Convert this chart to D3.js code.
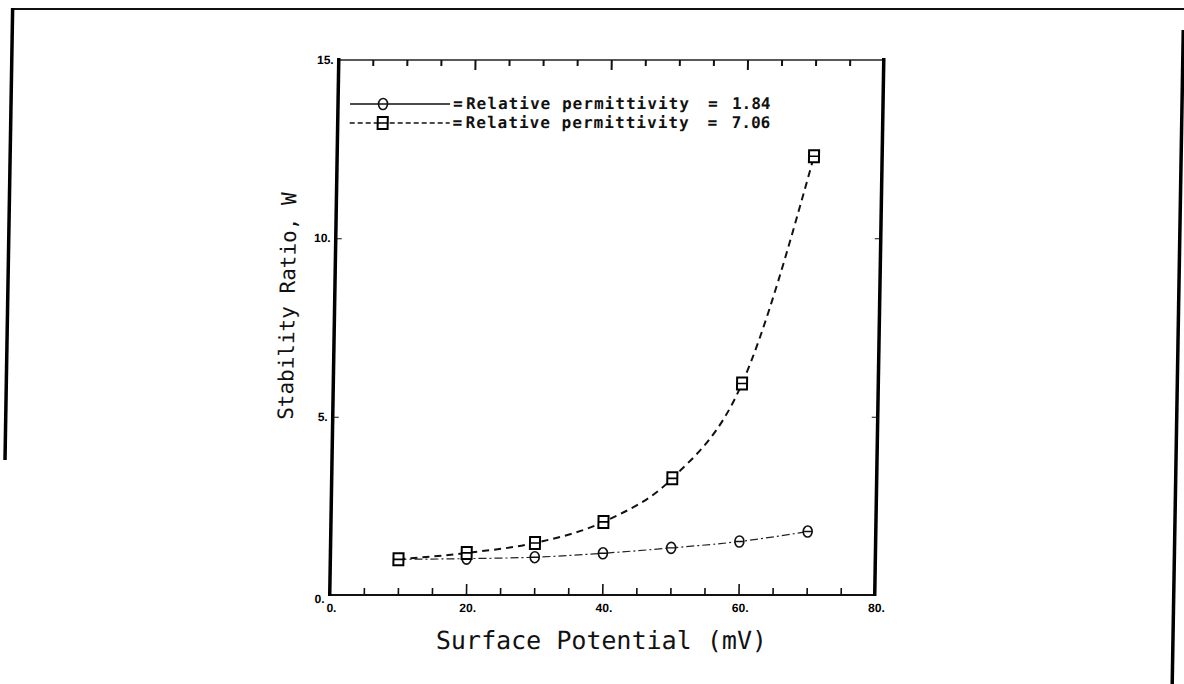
<!DOCTYPE html>
<html>
<head>
<meta charset="utf-8">
<script src="https://cdn.jsdelivr.net/npm/d3@7"></script>
<style>
  body { margin: 0; background: #fff; }
  svg { display: block; }
  .tick-lbl { font-family: "Liberation Sans", sans-serif; font-weight: bold; font-size: 12px; fill: #000; }
  .title { font-family: "DejaVu Sans Mono", monospace; fill: #111; }
  .leg { font-family: "DejaVu Sans Mono", monospace; font-size: 16px; font-weight: bold; fill: #111; }
</style>
</head>
<body>
<div id="chart"></div>
<script>
// values
const potentials = [10, 20, 30, 40, 50, 60, 70];
const ratioLow = [1.0, 1.02, 1.06, 1.17, 1.32, 1.5, 1.78];    // relative permittivity 1.84
const ratioHigh = [1.0, 1.18, 1.46, 2.05, 3.27, 5.93, 12.3];  // relative permittivity 7.06
const xTickLabels = [0, 20, 40, 60, 80];
const yTickLabels = [0, 5, 10, 15];
const legendLabels = ["1.84", "7.06"];

const WIDTH = 1184;
const HEIGHT = 684;
const plot = { left: 334, right: 879, top: 60, bottom: 595 };
// the scan is slightly sheared: top of the page sits right of the bottom
const shear = 0.0169;
const shearY = 342;

const svg = d3
  .select("#chart")
  .append("svg")
  .attr("width", WIDTH)
  .attr("height", HEIGHT);

svg.append("rect").attr("width", WIDTH).attr("height", HEIGHT).attr("fill", "#fff");

const page = svg
  .append("g")
  .attr("transform", `matrix(1,0,${-shear},1,${shear * shearY},0)`);

// page frame
page.append("line").attr("x1", 8).attr("x2", 1182).attr("y1", 9).attr("y2", 9)
  .attr("stroke", "#111").attr("stroke-width", 2);
page.append("line").attr("x1", 7).attr("x2", 7).attr("y1", 8).attr("y2", 460)
  .attr("stroke", "#000").attr("stroke-width", 3.5);
page.append("line").attr("x1", 1178).attr("x2", 1178).attr("y1", 30).attr("y2", 684)
  .attr("stroke", "#000").attr("stroke-width", 3.5);

const x = d3.scaleLinear().domain([0, 80]).range([plot.left, plot.right]);
const y = d3.scaleLinear().domain([0, 15]).range([plot.bottom, plot.top]);

// axes box: thick sides, thinner top and bottom
page.append("line").attr("x1", plot.left).attr("x2", plot.right)
  .attr("y1", plot.bottom).attr("y2", plot.bottom)
  .attr("stroke", "#111").attr("stroke-width", 2);
page.append("line").attr("x1", plot.left).attr("x2", plot.right)
  .attr("y1", plot.top).attr("y2", plot.top)
  .attr("stroke", "#222").attr("stroke-width", 1.6);
page.append("line").attr("x1", plot.left).attr("x2", plot.left)
  .attr("y1", plot.top - 2).attr("y2", plot.bottom + 1)
  .attr("stroke", "#000").attr("stroke-width", 3.5);
page.append("line").attr("x1", plot.right).attr("x2", plot.right)
  .attr("y1", plot.top - 2).attr("y2", plot.bottom + 1)
  .attr("stroke", "#000").attr("stroke-width", 3.5);

// tick marks
const minor = d3.range(5, 80, 5);
function styleTicks(g, w) {
  g.select(".domain").remove();
  g.selectAll(".tick line").attr("stroke", "#111").attr("stroke-width", w);
}
page.append("g")
  .attr("transform", `translate(0,${plot.bottom})`)
  .call(d3.axisBottom(x).tickValues(minor).tickSize(-7).tickFormat(""))
  .call((g) => styleTicks(g, 1.6))
  .selectAll(".tick line")
  .attr("y2", (d) => (d % 20 === 0 ? -11 : -7));
page.append("g")
  .attr("transform", `translate(0,${plot.top})`)
  .call(d3.axisTop(x).tickValues(minor).tickSize(-6).tickFormat(""))
  .call((g) => styleTicks(g, 2))
  .selectAll(".tick line")
  .attr("y2", (d) => (d % 20 === 0 ? 10 : 6));
page.append("g")
  .attr("transform", `translate(${plot.left},0)`)
  .call(d3.axisLeft(y).tickValues([5, 10]).tickSize(-6).tickFormat(""))
  .call((g) => styleTicks(g, 1));
page.append("g")
  .attr("transform", `translate(${plot.right},0)`)
  .call(d3.axisRight(y).tickValues([5, 10]).tickSize(-6).tickFormat(""))
  .call((g) => styleTicks(g, 1));

// tick labels
page.selectAll("text.xl")
  .data(xTickLabels)
  .enter()
  .append("text")
  .attr("class", "tick-lbl")
  .attr("x", (d) => x(d) + 2)
  .attr("y", plot.bottom + 17)
  .attr("text-anchor", "middle")
  .text((d) => d + ".");
page.selectAll("text.yl")
  .data(yTickLabels)
  .enter()
  .append("text")
  .attr("class", "tick-lbl")
  .attr("x", plot.left - 5)
  .attr("y", (d) => y(d) + (d === 0 ? 8 : 4))
  .attr("text-anchor", "end")
  .text((d) => d + ".");

// axis titles
page.append("text")
  .attr("class", "title")
  .attr("x", (plot.left + plot.right) / 2)
  .attr("y", 649)
  .attr("text-anchor", "middle")
  .attr("font-size", 25)
  .text("Surface Potential (mV)");
page.append("text")
  .attr("class", "title")
  .attr("transform", `translate(294,${y(8.1)}) rotate(-90)`)
  .attr("text-anchor", "middle")
  .attr("font-size", 21)
  .text("Stability Ratio, W");

// series
const lowPts = potentials.map((p, i) => [p, ratioLow[i]]);
const highPts = potentials.map((p, i) => [p, ratioHigh[i]]);
const line = d3
  .line()
  .x((d) => x(d[0]))
  .y((d) => y(d[1]))
  .curve(d3.curveMonotoneX);

page.append("path")
  .datum(lowPts)
  .attr("d", line)
  .attr("fill", "none")
  .attr("stroke", "#222")
  .attr("stroke-width", 1.2)
  .attr("stroke-dasharray", "8,3,2,3");
page.append("path")
  .datum(highPts)
  .attr("d", line)
  .attr("fill", "none")
  .attr("stroke", "#111")
  .attr("stroke-width", 2)
  .attr("stroke-dasharray", "7,5");

function circleMark(g) {
  g.append("ellipse").attr("rx", 4.5).attr("ry", 5.5)
    .attr("fill", "#fff").attr("stroke", "#111").attr("stroke-width", 1.6);
  g.append("line").attr("x1", -4.5).attr("x2", 4.5)
    .attr("stroke", "#111").attr("stroke-width", 1.4);
}
function squareMark(g) {
  g.append("rect").attr("x", -5).attr("y", -6).attr("width", 10).attr("height", 12)
    .attr("fill", "#fff").attr("stroke", "#000").attr("stroke-width", 2);
  g.append("line").attr("x1", -5).attr("x2", 5)
    .attr("stroke", "#000").attr("stroke-width", 1.6);
}

page.selectAll("g.circ")
  .data(lowPts)
  .enter()
  .append("g")
  .attr("class", "circ")
  .attr("transform", (d) => `translate(${x(d[0])},${y(d[1])})`)
  .each(function () { circleMark(d3.select(this)); });
page.selectAll("g.sq")
  .data(highPts)
  .enter()
  .append("g")
  .attr("class", "sq")
  .attr("transform", (d) => `translate(${x(d[0])},${y(d[1])})`)
  .each(function () { squareMark(d3.select(this)); });

// legend
const legY = [104, 123];
const leg = page.append("g");
leg.append("line").attr("x1", 346).attr("x2", 446).attr("y1", legY[0]).attr("y2", legY[0])
  .attr("stroke", "#111").attr("stroke-width", 1.4);
leg.append("line").attr("x1", 346).attr("x2", 446).attr("y1", legY[1]).attr("y2", legY[1])
  .attr("stroke", "#111").attr("stroke-width", 1.4).attr("stroke-dasharray", "5,3");
circleMark(leg.append("g").attr("transform", `translate(379,${legY[0]})`));
squareMark(leg.append("g").attr("transform", `translate(379,${legY[1]})`));
legendLabels.forEach((lab, i) => {
  leg.append("text").attr("class", "leg").attr("x", 449).attr("y", legY[i] + 5).text("=");
  leg.append("text").attr("class", "leg").attr("x", 462).attr("y", legY[i] + 5)
    .attr("textLength", 223).text("Relative permittivity");
  leg.append("text").attr("class", "leg").attr("x", 704).attr("y", legY[i] + 5).text("=");
  leg.append("text").attr("class", "leg").attr("x", 728).attr("y", legY[i] + 5).text(lab);
});
</script>
</body>
</html>
